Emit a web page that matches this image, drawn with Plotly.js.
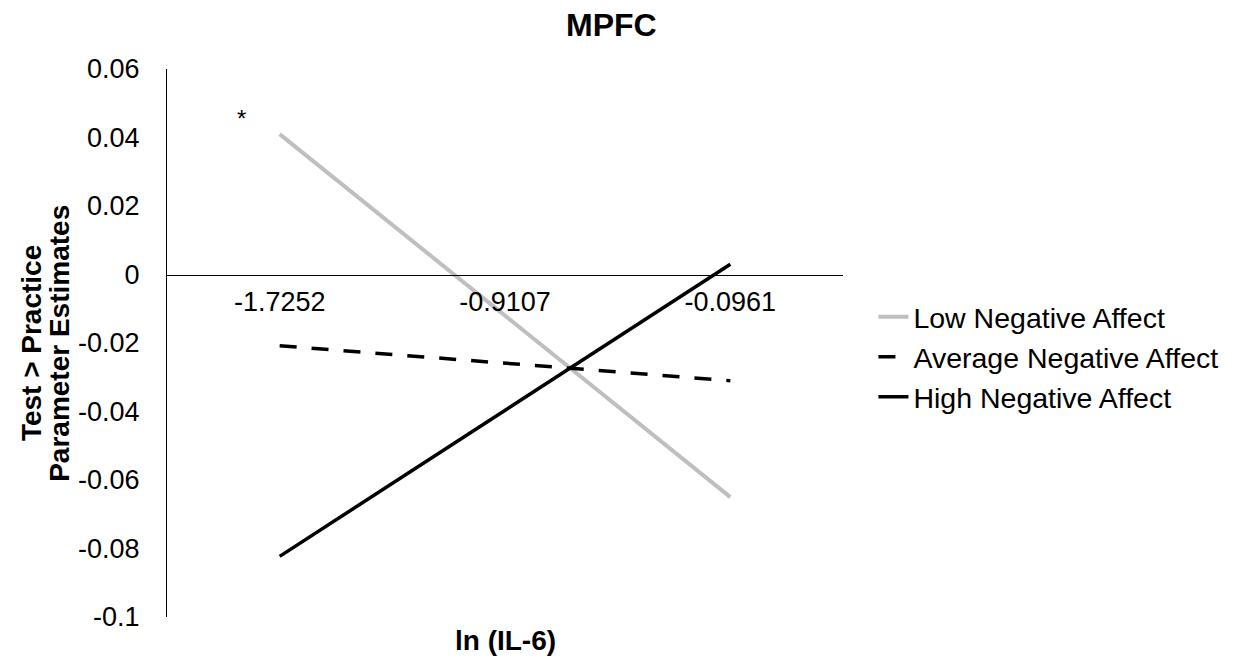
<!DOCTYPE html>
<html><head><meta charset="utf-8">
<script src="https://cdn.plot.ly/plotly-3.0.1.min.js"></script>
<style>html,body{margin:0;padding:0;background:#fff}#chart{width:1235px;height:657px}</style>
</head><body><div id="chart"></div>
<script>
const categories = ["-1.7252", "-0.9107", "-0.0961"];
const lowNA = [0.041, null, -0.065];
const avgNA = [-0.0208, null, -0.031];
const highNA = [-0.0823, null, 0.003];
const seriesNames = ["Low Negative Affect", "Average Negative Affect", "High Negative Affect"];
const yTickVals = [0.06, 0.04, 0.02, 0, -0.02, -0.04, -0.06, -0.08, -0.1];
const yTickText = ["0.06", "0.04", "0.02", "0", "-0.02", "-0.04", "-0.06", "-0.08", "-0.1"];
const yTitleLines = ["Test > Practice", "Parameter Estimates"];

const FONT = "Liberation Sans, Arial, sans-serif";
const FS = 27;
const xIdx = categories.map((c, i) => i);

const traces = [
  {x: xIdx, y: lowNA, name: seriesNames[0], mode: "lines", connectgaps: true,
   line: {color: "#bfbfbf", width: 4}},
  {x: xIdx, y: avgNA, name: seriesNames[1], mode: "lines", connectgaps: true,
   line: {color: "#000000", width: 3.5, dash: "17px,15px"}},
  {x: xIdx, y: highNA, name: seriesNames[2], mode: "lines", connectgaps: true,
   line: {color: "#000000", width: 3.5}}
];

const layout = {
  width: 1235, height: 657,
  margin: {l: 167, r: 390, t: 69, b: 40},
  paper_bgcolor: "#fff", plot_bgcolor: "#fff",
  font: {family: FONT, size: FS, color: "#000"},
  title: {text: "<b>MPFC</b>", font: {family: FONT, size: 32, color: "#000"},
          x: 0.495, xref: "container", xanchor: "center", y: 0.962, yref: "container", yanchor: "middle"},
  showlegend: true,
  legend: {x: 1.045, xanchor: "left", y: 0.474, yanchor: "middle",
           font: {family: FONT, size: 28.5, color: "#000"}, tracegroupgap: 0,
           itemwidth: 30, bgcolor: "rgba(0,0,0,0)"},
  xaxis: {
    range: [-0.5, 2.5], tickmode: "array", tickvals: xIdx, ticktext: categories,
    showgrid: false, zeroline: false, showline: true, linecolor: "#000", linewidth: 1,
    ticks: "", anchor: "free", position: 0.625, ticklabelstandoff: 3,
    tickfont: {family: FONT, size: FS, color: "#000"}, fixedrange: true
  },
  yaxis: {
    range: [-0.1, 0.06], tickmode: "array", tickvals: yTickVals, ticktext: yTickText,
    showgrid: false, zeroline: false, showline: true, linecolor: "#000", linewidth: 1,
    ticks: "", ticklabelstandoff: 21,
    tickfont: {family: FONT, size: FS, color: "#000"}, fixedrange: true
  },
  annotations: [
    {text: "<b>ln (IL-6)</b>", xref: "paper", yref: "paper", x: 0.5, y: -0.042,
     xanchor: "center", yanchor: "middle", showarrow: false,
     font: {family: FONT, size: 28, color: "#000"}},
    {text: "<b>" + yTitleLines[0] + "</b>", xref: "paper", yref: "paper",
     x: -0.201, y: 0.5, xanchor: "center", yanchor: "middle", textangle: -90,
     showarrow: false, font: {family: FONT, size: 28, color: "#000"}},
    {text: "<b>" + yTitleLines[1] + "</b>", xref: "paper", yref: "paper",
     x: -0.16, y: 0.5, xanchor: "center", yanchor: "middle", textangle: -90,
     showarrow: false, font: {family: FONT, size: 28, color: "#000"}},
    {text: "*", xref: "x", yref: "y", x: -0.17, y: 0.0455, showarrow: false,
     font: {family: FONT, size: 24, color: "#000"}}
  ]
};

Plotly.newPlot("chart", traces, layout, {staticPlot: true, displayModeBar: false});
</script></body></html>
